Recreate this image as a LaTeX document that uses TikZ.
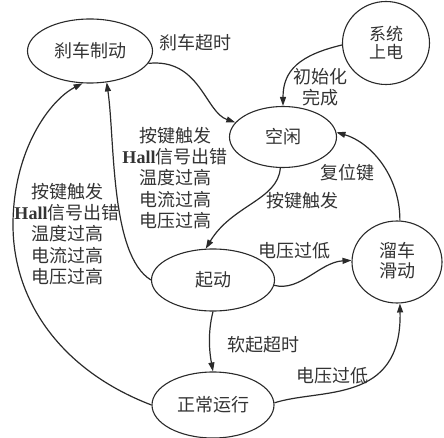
\documentclass[tikz,border=0pt]{standalone}
\usepackage{fontspec}
\setmainfont{Liberation Serif}
\newfontfamily\cjk{Noto Sans CJK SC}
\usetikzlibrary{shapes.geometric,arrows.meta}
\definecolor{ink}{HTML}{2A2A2A}
\definecolor{txt}{HTML}{333333}
\newcommand{\hl}{{\rmfamily\bfseries Hall}}
\tikzset{
  state/.style={ellipse,draw=ink,line width=1.1pt,inner sep=0pt,text=txt,align=center,
    font=\cjk\fontsize{18}{21}\selectfont},
  lbl/.style={text=txt,align=center,inner sep=0pt,font=\cjk\fontsize{18}{21.2}\selectfont},
  tr/.style={draw=ink,line width=1.2pt,-{Triangle[length=9pt,width=6pt]}},
}
\begin{document}
\begin{tikzpicture}[x=1pt,y=-1pt]
\useasboundingbox (0,0) rectangle (444,438);
% states
\node[state,minimum width=125pt,minimum height=64pt] (brake) at (90,51) {刹车制动};
\node[state,minimum width=87pt,minimum height=83pt,font=\cjk\fontsize{17}{18.5}\selectfont] (power) at (386,43) {\raisebox{-5pt}{\shortstack{系统\\[0pt]上电}}};
\node[state,minimum width=107pt,minimum height=61pt] (idle) at (283,137) {空闲};
\node[state,minimum width=123pt,minimum height=62pt] (start) at (213,280) {起动};
\node[state,minimum width=90pt,minimum height=82pt] (slide) at (397,262) {\raisebox{4pt}{\shortstack{溜车\\滑动}}};
\node[state,minimum width=122pt,minimum height=66pt] (run) at (213,405) {正常运行};
% labels
\node[lbl] (l1) at (195,43) {刹车超时};
\node[lbl] (l2) at (320,87) {初始化\\完成};
\node[lbl] (l3) at (175,178) {按键触发\\\hl 信号出错\\温度过高\\电流过高\\电压过高};
\node[lbl] (l4) at (67,234) {按键触发\\\hl 信号出错\\温度过高\\电流过高\\电压过高};
\node[lbl] (l5) at (347,173) {复位键};
\node[lbl] (l6) at (302,201) {按键触发};
\node[lbl] (l7) at (294,251) {电压过低};
\node[lbl] (l8) at (263,345) {软起超时};
\node[lbl] (l9) at (332,376) {电压过低};
% coordinates
\coordinate (lm) at (13,225);
% transitions
\draw[tr] (power.west) ++(0,2) .. controls (300,55) and (283,70) .. (idle.north);
\draw[tr] (brake.-12) .. controls (200,58) and (205,112) .. (idle.163);
\draw[tr] (idle.-95) .. controls (278,200) and (232,205) .. (start.103);
\draw[tr] (start.west) .. controls (110,255) and (115,140) .. (brake.-62);
\draw[tr] (run.west) .. controls (60,370) and (13,300) .. (lm) .. controls (13,150) and (50,100) .. (brake.-103);
\draw[tr] (start.-5) .. controls (300,292) and (320,262) .. (slide.178);
\draw[tr] (start.south) .. controls (207,335) and (210,355) .. (run.north);
\draw[tr] (run.2) .. controls (320,388) and (402,405) .. (slide.-86);
\draw[tr] (slide.86) .. controls (400,175) and (370,142) .. (idle.5);
\end{tikzpicture}
\end{document}
